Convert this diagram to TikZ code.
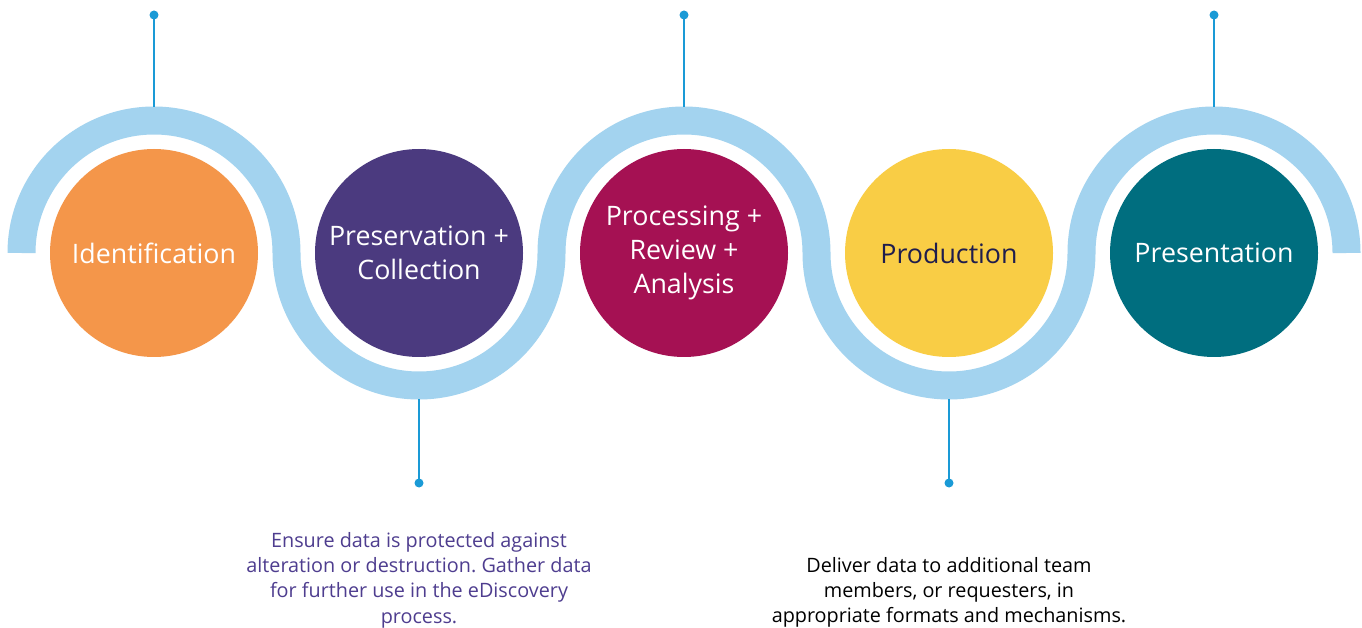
\documentclass[tikz,border=0pt]{standalone}
\usepackage{fontspec}
\setmainfont{Open Sans}
\frenchspacing
\definecolor{band}{HTML}{A3D3EF}
\definecolor{pin}{HTML}{1A9AD6}
\definecolor{cOrange}{HTML}{F4964A}
\definecolor{cPurple}{HTML}{4B3A7F}
\definecolor{cMagenta}{HTML}{A51153}
\definecolor{cYellow}{HTML}{F9CD45}
\definecolor{cTeal}{HTML}{006E7F}
\definecolor{navy}{HTML}{1F1D4D}
\definecolor{descPurple}{HTML}{4E3D8F}
\begin{document}
\begin{tikzpicture}[x=1pt,y=1pt,
  stage/.style={circle,minimum size=208pt,inner sep=0pt,text=white,align=center,
    font=\fontsize{26.8}{34}\selectfont},
  bandline/.style={draw=band,line width=28pt},
  pinline/.style={draw=pin,line width=2.6pt},
  pindot/.style={circle,fill=pin,minimum size=9pt,inner sep=0pt},
  desc/.style={align=center,anchor=north,inner sep=0pt,font=\fontsize{19.8}{25.3}\selectfont}]
\fill[white] (0,0) rectangle (1362,627);
\useasboundingbox (0,0) rectangle (1362,627);
% wave band
\draw[bandline] (21.5,374) arc[start angle=180,end angle=0,radius=132.5]
  arc[start angle=180,end angle=360,radius=132.5]
  arc[start angle=180,end angle=0,radius=132.5]
  arc[start angle=180,end angle=360,radius=132.5]
  arc[start angle=180,end angle=0,radius=132.5];
% stages
\node[stage,fill=cOrange] (s1) at (154,374) {Identification};
\node[stage,fill=cPurple] (s2) at (419,374) {Preservation +\\Collection};
\node[stage,fill=cMagenta] (s3) at (684,374) {Processing +\\Review +\\Analysis};
\node[stage,fill=cYellow,text=navy] (s4) at (949,374) {Production};
\node[stage,fill=cTeal] (s5) at (1214,374) {Presentation};
% pins
\coordinate (a1) at (154,520);
\coordinate (a3) at (684,520);
\coordinate (a5) at (1214,520);
\coordinate (a2) at (419,228);
\coordinate (a4) at (949,228);
\node[pindot] (d1) at (154,612) {};
\node[pindot] (d3) at (684,612) {};
\node[pindot] (d5) at (1214,612) {};
\node[pindot] (d2) at (419,144) {};
\node[pindot] (d4) at (949,144) {};
\draw[pinline] (d1.center) -- (a1);
\draw[pinline] (d3.center) -- (a3);
\draw[pinline] (d5.center) -- (a5);
\draw[pinline] (d2.center) -- (a2);
\draw[pinline] (d4.center) -- (a4);
% descriptions
\node[desc,text=descPurple] (t2) at (419,95) {Ensure data is protected against\\alteration or destruction. Gather data\\for further use in the eDiscovery\\process.};
\node[desc,text=black] (t4) at (949,70) {Deliver data to additional team\\members, or requesters, in\\appropriate formats and mechanisms.};
\end{tikzpicture}
\end{document}
